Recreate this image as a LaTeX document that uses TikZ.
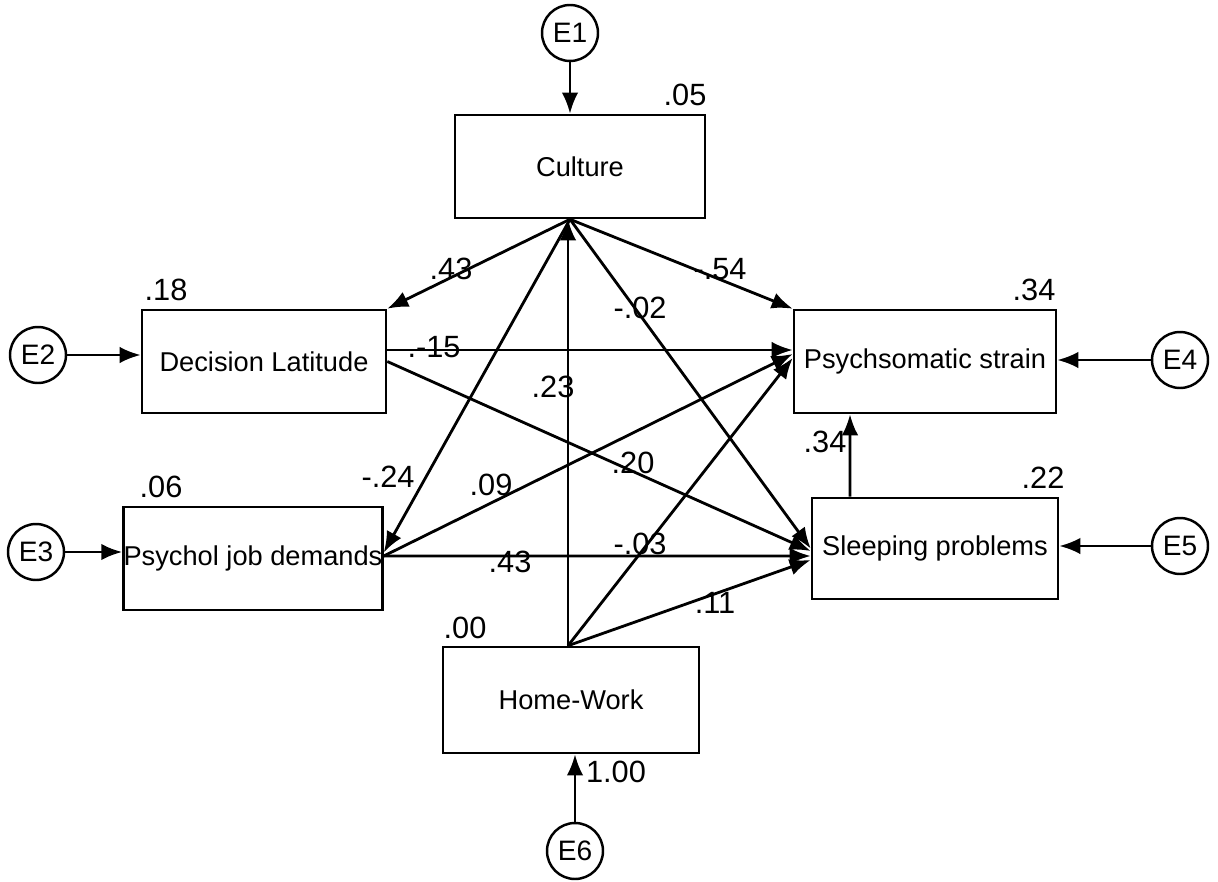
\documentclass[tikz,border=0pt]{standalone}
\usepackage{fontspec}
\setmainfont{Liberation Sans}
\usetikzlibrary{arrows.meta}

\begin{document}
\begin{tikzpicture}[x=0.02cm,y=-0.02cm,>={Latex[length=4.2mm,width=3.3mm]},line width=1.6pt]
\tikzstyle{var}=[draw,line width=1.5pt,inner sep=0pt,minimum height=2.06cm,font=\fontsize{15.5}{18}\selectfont]
\tikzstyle{err}=[draw,circle,line width=1.4pt,inner sep=0pt,minimum size=1.12cm,font=\fontsize{16}{18}\selectfont]
\tikzstyle{num}=[inner sep=0pt,font=\fontsize{17.5}{20}\selectfont]
\useasboundingbox (0,0) rectangle (1218,882);
\node[var,minimum width=5cm] (cult) at (580,166.5) {Culture};
\node[var,minimum width=4.88cm] (dl) at (264,361.5) {Decision Latitude};
\node[var,minimum width=5.16cm] (pjd) at (253,558.5) {Psychol job demands};
\node[var,minimum width=5.24cm] (ps) at (925,361.5) {Psychsomatic strain};
\node[var,minimum width=4.92cm,minimum height=2.02cm] (sp) at (935,548.5) {Sleeping problems};
\node[var,minimum width=5.12cm,minimum height=2.12cm] (hw) at (571,700) {Home-Work};
\node[err] (e1) at (570,33) {E1};
\node[err] (e2) at (38,355) {E2};
\node[err] (e3) at (36,552) {E3};
\node[err] (e4) at (1180,360) {E4};
\node[err] (e5) at (1180,546) {E5};
\node[err] (e6) at (575,851) {E6};
\coordinate (cp) at ([xshift=-0.2cm]cult.south);
\coordinate (hp) at ([xshift=-0.06cm]hw.north);
\draw[->] (e1) -- (e1 |- cult.north);
\draw[->] (e2) -- (e2 -| dl.west);
\draw[->] (e3) -- (e3 -| pjd.west);
\draw[->] (e4) -- (e4 -| ps.east);
\draw[->] (e5) -- (e5 -| sp.east);
\draw[->] (e6) -- (e6 |- hw.south);
\draw[->] (cp) -- (dl.north east);
\draw[->] (cp) -- ([yshift=0.12cm]pjd.east);
\draw[->] (cp) -- (ps.north west);
\draw[->] (cp) -- (sp.west);
\draw[->] (hp) -- (hp |- cult.south);
\draw[->] ([yshift=0.23cm]dl.east) -- ([yshift=0.23cm]ps.west);
\draw[->] (dl.east) -- ([yshift=-0.05cm]sp.west);
\draw[->] ([yshift=0.05cm]pjd.east) -- ([yshift=0.15cm]ps.west);
\draw[->] ([yshift=0.05cm]pjd.east) -- ([yshift=-0.15cm]sp.west);
\draw[->] (hp) -- ([yshift=0.07cm]ps.west);
\draw[->] (hp) -- ([yshift=-0.23cm]sp.west);
\draw[->] ([xshift=-1.7cm]sp.north) -- ([xshift=-1.5cm]ps.south);
\node[num] (r2cult) at (685,95) {.05};
\node[num] (r2dl) at (166,290) {.18};
\node[num] (r2pjd) at (161,487) {.06};
\node[num] (r2ps) at (1034,290) {.34};
\node[num] (r2sp) at (1043,478) {.22};
\node[num] (r2hw) at (465,628) {.00};
\node[num] (we6) at (616,772) {1.00};
\node[num] (wcdl) at (451,269) {.43};
\node[num] (wcps) at (720,269) {-.54};
\node[num] (wcsp) at (640,308) {-.02};
\node[num] (wdlps) at (434,347) {.-15};
\node[num] (whc) at (553,387) {.23};
\node[num] (wcpjd) at (388,477) {-.24};
\node[num] (wpjdps) at (491,485) {.09};
\node[num] (wdlsp) at (633,463) {.20};
\node[num] (whps) at (640,544) {-.03};
\node[num] (wpjdsp) at (510,562) {.43};
\node[num] (whsp) at (715,603) {.11};
\node[num] (wspps) at (825,442) {.34};
\end{tikzpicture}
\end{document}
